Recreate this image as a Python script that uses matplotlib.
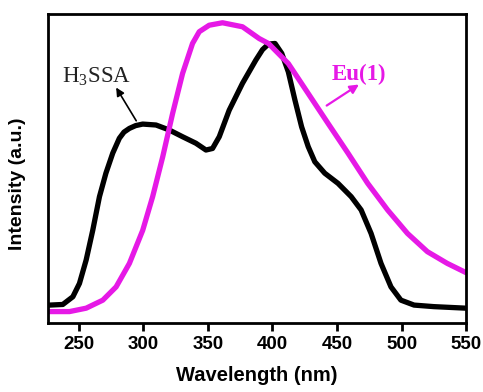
import matplotlib
matplotlib.use('Agg')
import matplotlib.pyplot as plt

plt.rcParams['mathtext.fontset'] = 'custom'
plt.rcParams['mathtext.rm'] = 'Liberation Serif'

# intensity normalised to the axis height
wl_h3ssa = [226, 227.3, 237.6, 245.4, 250.5, 255.7, 260.8, 266, 271, 276.3, 281.4, 285, 289.2,
            294, 299.5, 309.8, 320, 330.4, 340.7, 348.5, 353.6, 358.8, 366.5, 376.8, 387.1,
            392.3, 396.9, 402, 407.2, 412.3, 417.4, 422.6, 427.7, 432.8, 440.5, 450.8,
            461, 468.7, 476.4, 484.1, 491.8, 499.5, 509.7, 525.1, 550]
int_h3ssa = [0.058, 0.058, 0.060, 0.085, 0.128, 0.204, 0.300, 0.409, 0.485, 0.550, 0.598,
             0.618, 0.630, 0.639, 0.644, 0.641, 0.625, 0.603, 0.582, 0.560, 0.565, 0.603,
             0.689, 0.776, 0.851, 0.885, 0.903, 0.905, 0.873, 0.813, 0.722, 0.635, 0.571,
             0.522, 0.485, 0.452, 0.409, 0.366, 0.290, 0.193, 0.117, 0.074, 0.058, 0.053,
             0.048]

wl_eu = [226, 242.8, 255.7, 268.6, 278.9, 289.2, 299.5, 307.2, 315, 322.7, 330.4, 338.1,
         343.3, 351, 361.3, 376.8, 389.7, 396.9, 412.3, 427.7, 443.1, 458.5, 473.8, 489.2,
         504.6, 520, 535.4, 550]
int_eu = [0.037, 0.037, 0.048, 0.074, 0.117, 0.193, 0.300, 0.409, 0.538, 0.679, 0.808,
          0.905, 0.943, 0.964, 0.972, 0.959, 0.921, 0.905, 0.840, 0.743, 0.646, 0.550,
          0.452, 0.366, 0.290, 0.231, 0.193, 0.163]

x_ticks = [250, 300, 350, 400, 450, 500, 550]
magenta = '#e619e6'

fig, ax = plt.subplots(figsize=(4.83, 3.92), dpi=100)
fig.subplots_adjust(left=0.099, right=0.965, bottom=0.176, top=0.964)

ax.plot(wl_h3ssa, int_h3ssa, color='black', lw=3.8, solid_capstyle='round', solid_joinstyle='round')
ax.plot(wl_eu, int_eu, color=magenta, lw=3.8, solid_capstyle='round', solid_joinstyle='round')

ax.set_xlim(226, 550)
ax.set_ylim(0, 1)
ax.set_xticks(x_ticks)
ax.set_yticks([])
for lab in ax.get_xticklabels():
    lab.set_fontweight('bold')
    lab.set_fontfamily('Liberation Sans')
    lab.set_fontsize(13.5)
ax.tick_params(axis='x', direction='out', length=6, width=2, pad=3)
for sp in ax.spines.values():
    sp.set_linewidth(2)

ax.set_xlabel('Wavelength (nm)', fontsize=14.5, fontweight='bold', family='Liberation Sans', labelpad=10)
ax.set_ylabel('Intensity (a.u.)', fontsize=14, fontweight='bold', family='Liberation Sans')
ax.yaxis.set_label_coords(-0.053, 0.45)

ax.annotate('', xy=(277.8, 0.77), xytext=(295.6, 0.647),
            arrowprops=dict(arrowstyle='-|>', color='black', lw=1.2, mutation_scale=12))
ax.text(237, 0.78, r'H$_{\mathrm{3}}$SSA', fontsize=16.5, family='Liberation Serif', color='#222222')

ax.annotate('', xy=(468.8, 0.777), xytext=(440.2, 0.699),
            arrowprops=dict(arrowstyle='-|>', color=magenta, lw=1.6, mutation_scale=13))
ax.text(446, 0.785, 'Eu(1)', fontsize=16.5, fontweight='bold', family='Liberation Serif', color=magenta)

fig.savefig('out.png', dpi=100)
